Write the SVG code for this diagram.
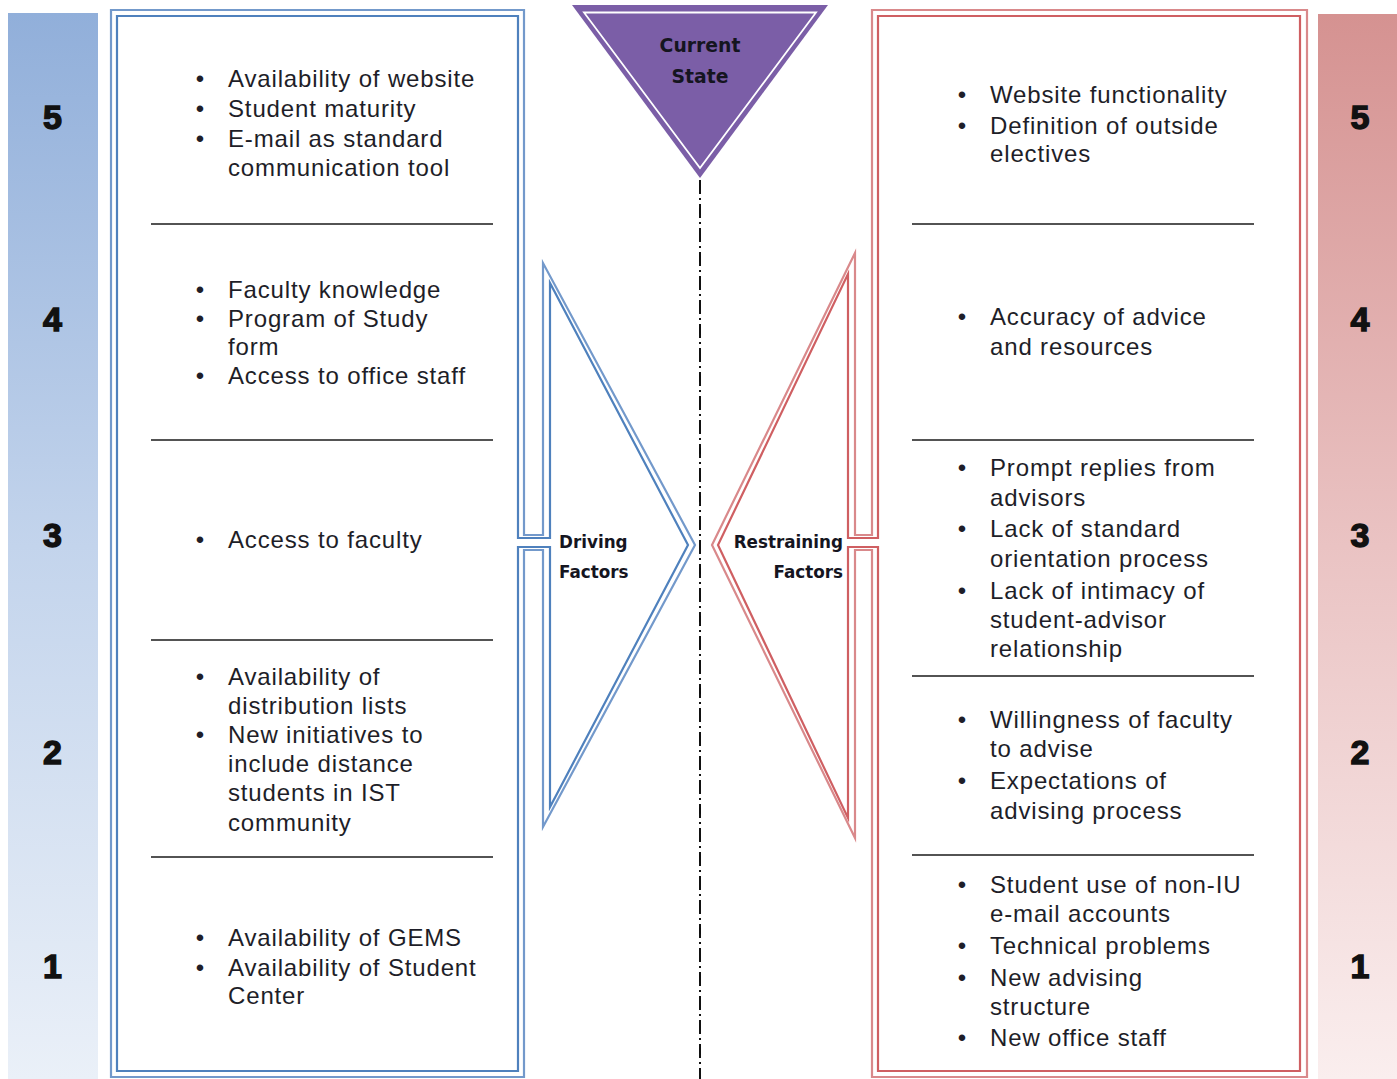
<svg xmlns="http://www.w3.org/2000/svg" width="1397" height="1079" viewBox="0 0 1397 1079">
  <defs>
    <linearGradient id="gradBlue" x1="0" y1="0" x2="0" y2="1">
      <stop offset="0" stop-color="#91afda"/>
      <stop offset="0.5" stop-color="#c3d4ec"/>
      <stop offset="1" stop-color="#eaf0f8"/>
    </linearGradient>
    <linearGradient id="gradRed" x1="0" y1="0" x2="0" y2="1">
      <stop offset="0" stop-color="#d59291"/>
      <stop offset="0.5" stop-color="#eac3c3"/>
      <stop offset="1" stop-color="#faeeee"/>
    </linearGradient>
    <style>
      .item { font-family: "Liberation Sans", Arial, sans-serif; font-size: 24px; letter-spacing: 0.85px; fill: #1e1e28; }
      .bullet { font-family: "Liberation Sans", Arial, sans-serif; font-size: 24px; fill: #1e1e28; text-anchor: middle; }
      .num { font-family: "Liberation Sans", Arial, sans-serif; font-size: 34px; font-weight: bold; fill: #111; stroke: #111; stroke-width: 1.4px; text-anchor: middle; }
      .label { font-family: "DejaVu Sans", Verdana, sans-serif; font-weight: bold; font-size: 16.8px; fill: #15151f; }
      .state { font-family: "DejaVu Sans", Verdana, sans-serif; font-weight: bold; font-size: 18.8px; fill: #15151f; text-anchor: middle; }
      .sep { stroke: #1a1a1a; stroke-width: 1.6; }
      .blueOuter { fill: none; stroke: #7399cb; stroke-width: 2.2; stroke-linejoin: miter; stroke-miterlimit: 20; }
      .blueInner { fill: none; stroke: #4f81bd; stroke-width: 2.2; stroke-linejoin: miter; stroke-miterlimit: 20; }
      .redOuter { fill: none; stroke: #d9898b; stroke-width: 2.2; stroke-linejoin: miter; stroke-miterlimit: 20; }
      .redInner { fill: none; stroke: #cf5f62; stroke-width: 2.2; stroke-linejoin: miter; stroke-miterlimit: 20; }
    </style>
  </defs>

  <rect width="1397" height="1079" fill="#ffffff"/>

  <!-- scale bars -->
  <g id="scale-left">
    <rect x="8" y="13" width="90" height="1066" fill="url(#gradBlue)"/>
    <text class="num" x="52.5" y="129">5</text>
    <text class="num" x="52.5" y="331">4</text>
    <text class="num" x="52.5" y="547">3</text>
    <text class="num" x="52.5" y="764">2</text>
    <text class="num" x="52.5" y="978">1</text>
  </g>
  <g id="scale-right">
    <rect x="1318" y="14" width="79" height="1065" fill="url(#gradRed)"/>
    <text class="num" x="1360" y="129">5</text>
    <text class="num" x="1360" y="331">4</text>
    <text class="num" x="1360" y="547">3</text>
    <text class="num" x="1360" y="764">2</text>
    <text class="num" x="1360" y="978">1</text>
  </g>

  <!-- connectors: centre line -->
  <g id="connectors">
    <line x1="700" y1="180" x2="700" y2="1079" stroke="#111" stroke-width="2" stroke-dasharray="14 4 2 4"/>
  </g>

  <!-- current state triangle -->
  <g id="current-state">
    <polygon points="572,5 828,5 700,178" fill="#7b5ea7"/>
    <polygon points="584,12.5 816,12.5 700,168" fill="none" stroke="#ffffff" stroke-width="1.8"/>
    <text class="state" x="700" y="52">Current</text>
    <text class="state" x="700" y="83">State</text>
  </g>

  <!-- driving factors: box joined to arrow -->
  <g id="driving-factors">
    <path class="blueOuter" d="M111,10 H524 V535 H543 V263 L695,545 L543,827 V550 H524 V1077 H111 Z"/>
    <path class="blueInner" d="M117,16 H518 V538 H550 V283 L688,545 L550,807 V547 H518 V1071 H117 Z"/>
    <text class="label" x="559" y="548">Driving</text>
    <text class="label" x="559" y="578">Factors</text>

    <line class="sep" x1="151" y1="224" x2="493" y2="224"/>
    <line class="sep" x1="151" y1="440" x2="493" y2="440"/>
    <line class="sep" x1="151" y1="640" x2="493" y2="640"/>
    <line class="sep" x1="151" y1="857" x2="493" y2="857"/>

    <g id="driving-5">
      <text class="bullet" x="200" y="87">•</text>
      <text class="bullet" x="200" y="117">•</text>
      <text class="bullet" x="200" y="147">•</text>
      <text class="item" x="228" y="87">Availability of website</text>
      <text class="item" x="228" y="117">Student maturity</text>
      <text class="item" x="228" y="147">E-mail as standard</text>
      <text class="item" x="228" y="176">communication tool</text>
    </g>
    <g id="driving-4">
      <text class="bullet" x="200" y="298">•</text>
      <text class="bullet" x="200" y="327">•</text>
      <text class="bullet" x="200" y="384">•</text>
      <text class="item" x="228" y="298">Faculty knowledge</text>
      <text class="item" x="228" y="327">Program of Study</text>
      <text class="item" x="228" y="355">form</text>
      <text class="item" x="228" y="384">Access to office staff</text>
    </g>
    <g id="driving-3">
      <text class="bullet" x="200" y="548">•</text>
      <text class="item" x="228" y="548">Access to faculty</text>
    </g>
    <g id="driving-2">
      <text class="bullet" x="200" y="685">•</text>
      <text class="bullet" x="200" y="743">•</text>
      <text class="item" x="228" y="685">Availability of</text>
      <text class="item" x="228" y="714">distribution lists</text>
      <text class="item" x="228" y="743">New initiatives to</text>
      <text class="item" x="228" y="772">include distance</text>
      <text class="item" x="228" y="801">students in IST</text>
      <text class="item" x="228" y="831">community</text>
    </g>
    <g id="driving-1">
      <text class="bullet" x="200" y="946">•</text>
      <text class="bullet" x="200" y="976">•</text>
      <text class="item" x="228" y="946">Availability of GEMS</text>
      <text class="item" x="228" y="976">Availability of Student</text>
      <text class="item" x="228" y="1004">Center</text>
    </g>
  </g>

  <!-- restraining factors: box joined to arrow -->
  <g id="restraining-factors">
    <path class="redOuter" d="M872,10 H1307 V1077 H872 V550 H855 V838 L712,545 L855,253 V535 H872 Z"/>
    <path class="redInner" d="M878,16 H1300 V1071 H878 V547 H848 V818 L718,545 L848,274 V538 H878 Z"/>
    <text class="label" x="843" y="548" text-anchor="end">Restraining</text>
    <text class="label" x="843" y="578" text-anchor="end">Factors</text>

    <line class="sep" x1="912" y1="224" x2="1254" y2="224"/>
    <line class="sep" x1="912" y1="440" x2="1254" y2="440"/>
    <line class="sep" x1="912" y1="676" x2="1254" y2="676"/>
    <line class="sep" x1="912" y1="855" x2="1254" y2="855"/>

    <g id="restraining-5">
      <text class="bullet" x="962" y="103">•</text>
      <text class="bullet" x="962" y="134">•</text>
      <text class="item" x="990" y="103">Website functionality</text>
      <text class="item" x="990" y="134">Definition of outside</text>
      <text class="item" x="990" y="162">electives</text>
    </g>
    <g id="restraining-4">
      <text class="bullet" x="962" y="325">•</text>
      <text class="item" x="990" y="325">Accuracy of advice</text>
      <text class="item" x="990" y="355">and resources</text>
    </g>
    <g id="restraining-3">
      <text class="bullet" x="962" y="476">•</text>
      <text class="bullet" x="962" y="537">•</text>
      <text class="bullet" x="962" y="599">•</text>
      <text class="item" x="990" y="476">Prompt replies from</text>
      <text class="item" x="990" y="506">advisors</text>
      <text class="item" x="990" y="537">Lack of standard</text>
      <text class="item" x="990" y="567">orientation process</text>
      <text class="item" x="990" y="599">Lack of intimacy of</text>
      <text class="item" x="990" y="628">student-advisor</text>
      <text class="item" x="990" y="657">relationship</text>
    </g>
    <g id="restraining-2">
      <text class="bullet" x="962" y="728">•</text>
      <text class="bullet" x="962" y="789">•</text>
      <text class="item" x="990" y="728">Willingness of faculty</text>
      <text class="item" x="990" y="757">to advise</text>
      <text class="item" x="990" y="789">Expectations of</text>
      <text class="item" x="990" y="819">advising process</text>
    </g>
    <g id="restraining-1">
      <text class="bullet" x="962" y="893">•</text>
      <text class="bullet" x="962" y="954">•</text>
      <text class="bullet" x="962" y="986">•</text>
      <text class="bullet" x="962" y="1046">•</text>
      <text class="item" x="990" y="893">Student use of non-IU</text>
      <text class="item" x="990" y="922">e-mail accounts</text>
      <text class="item" x="990" y="954">Technical problems</text>
      <text class="item" x="990" y="986">New advising</text>
      <text class="item" x="990" y="1015">structure</text>
      <text class="item" x="990" y="1046">New office staff</text>
    </g>
  </g>
</svg>
